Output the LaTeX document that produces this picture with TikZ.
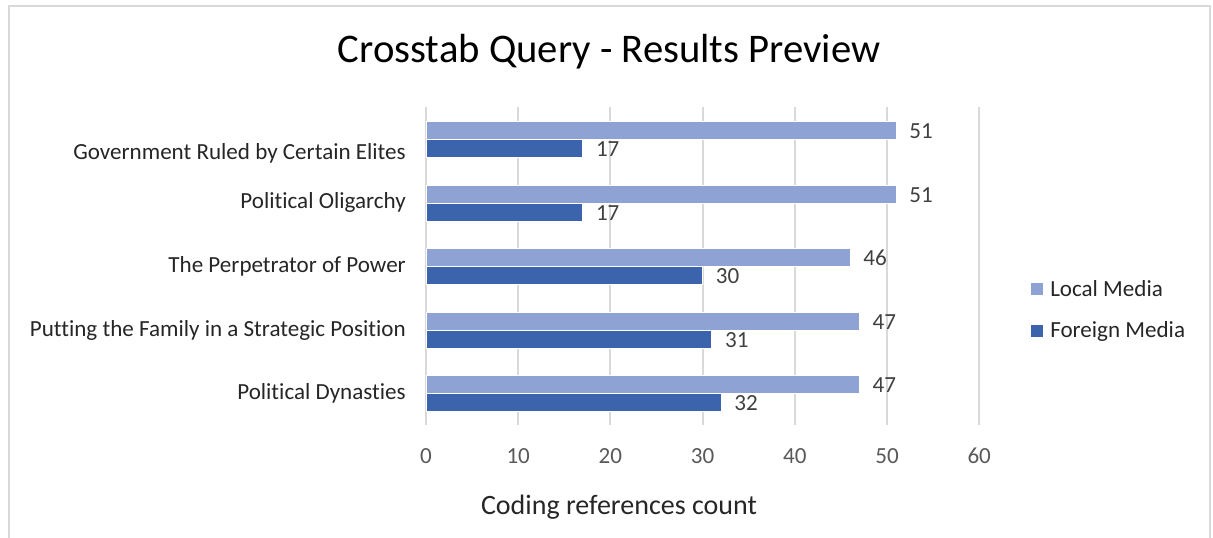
\documentclass[tikz,border=0pt]{standalone}
\usepackage{fontspec}
\setmainfont{Carlito}[Ligatures=NoCommon]
\usetikzlibrary{positioning}
\definecolor{localbar}{HTML}{8FA2D4}
\definecolor{foreignbar}{HTML}{3C64AC}
\definecolor{gridgray}{HTML}{D9D9D9}
\definecolor{ticktext}{HTML}{595959}
\definecolor{valuetext}{HTML}{404040}
\definecolor{labeltext}{HTML}{262626}

\begin{document}
\begin{tikzpicture}[x=0.75pt,y=-0.75pt]
	\tikzset{
		cat label/.style = {anchor=east, inner sep=0pt, text=labeltext, font=\fontsize{17.3}{20}\selectfont},
		value label/.style = {anchor=west, inner sep=0pt, text=valuetext, font=\fontsize{17.3}{20}\selectfont},
		tick label/.style = {inner sep=0pt, text=ticktext, font=\fontsize{17.3}{20}\selectfont},
		legend label/.style = {anchor=west, inner sep=0pt, text=labeltext, font=\fontsize{17.3}{20}\selectfont},
		grid line/.style = {draw=gridgray, line width=1.5pt},
		local bar/.style = {fill=localbar, draw=white, line width=0.5pt},
		foreign bar/.style = {fill=foreignbar, draw=white, line width=0.5pt}
		}
	\useasboundingbox (0,0) rectangle (1213,537);
	% chart frame
	\draw[gridgray, line width=2pt] (9,545) -- (9,6) -- (1210,6) -- (1210,545);

	\node [name=title, font=\fontsize{30.5}{36}\selectfont, text=black] at (609,52) {Crosstab Query - Results Preview};

	% vertical grid lines and tick labels
	\foreach \v in {0,10,...,60}{
		\draw[grid line] ({426+9.22*\v},107) -- ({426+9.22*\v},425);
		\node [tick label, name=tick\v] at ({426+9.22*\v},456) {\v};
	}

	% bars: local on top, foreign below
	\path[local bar] (426,121) rectangle ({426+9.22*51},139);
	\path[foreign bar] (426,139) rectangle ({426+9.22*17},157);
	\path[local bar] (426,185) rectangle ({426+9.22*51},203);
	\path[foreign bar] (426,203) rectangle ({426+9.22*17},221);
	\path[local bar] (426,248) rectangle ({426+9.22*46},266);
	\path[foreign bar] (426,266) rectangle ({426+9.22*30},284);
	\path[local bar] (426,312) rectangle ({426+9.22*47},330);
	\path[foreign bar] (426,330) rectangle ({426+9.22*31},348);
	\path[local bar] (426,375) rectangle ({426+9.22*47},393);
	\path[foreign bar] (426,393) rectangle ({426+9.22*32},411);

	% value labels
	\node [value label, name=val local a] at ({439+9.22*51},131) {51};
	\node [value label, name=val foreign a] at ({439+9.22*17},149) {17};
	\node [value label, name=val local b] at ({439+9.22*51},195) {51};
	\node [value label, name=val foreign b] at ({439+9.22*17},213) {17};
	\node [value label, name=val local c] at ({439+9.22*46},258) {46};
	\node [value label, name=val foreign c] at ({439+9.22*30},276) {30};
	\node [value label, name=val local d] at ({439+9.22*47},322) {47};
	\node [value label, name=val foreign d] at ({439+9.22*31},340) {31};
	\node [value label, name=val local e] at ({439+9.22*47},385) {47};
	\node [value label, name=val foreign e] at ({439+9.22*32},403) {32};

	% category labels
	\node [cat label, name=cat a] at (406,153) {Government Ruled by Certain Elites};
	\node [cat label, name=cat b] at (406,202) {Political Oligarchy};
	\node [cat label, name=cat c] at (406,266) {The Perpetrator of Power};
	\node [cat label, name=cat d] at (406,330) {Putting the Family in a Strategic Position};
	\node [cat label, name=cat e] at (406,393) {Political Dynasties};

	\node [name=axis title, font=\fontsize{21}{25}\selectfont, text=labeltext] at (619,507) {Coding references count};

	% legend
	\fill[localbar] (1031,283) rectangle (1043,295);
	\node [legend label, name=leg local] at (1050,289) {Local Media};
	\fill[foreignbar] (1031,325) rectangle (1043,337);
	\node [legend label, name=leg foreign] at (1050,331) {Foreign Media};
\end{tikzpicture}
\end{document}
